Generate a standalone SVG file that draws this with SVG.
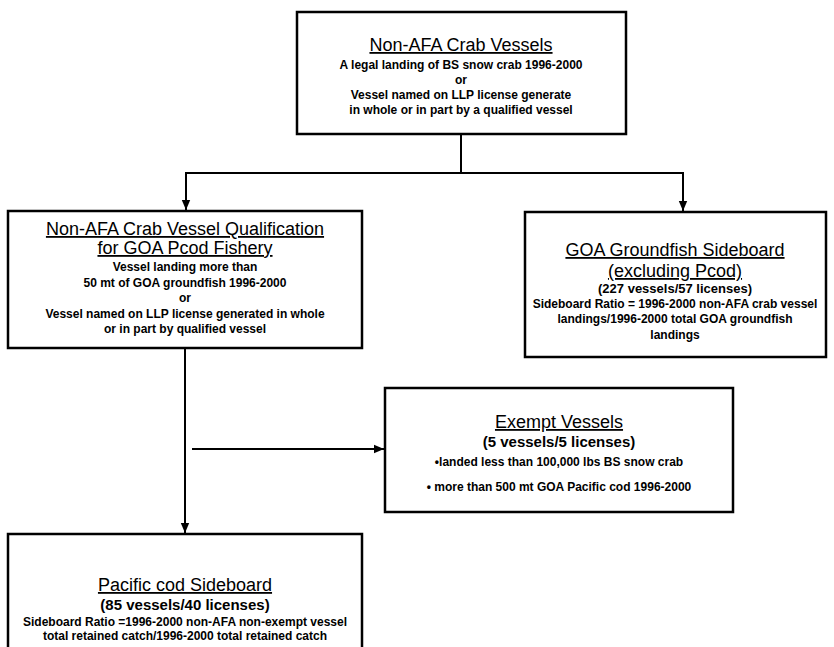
<svg xmlns="http://www.w3.org/2000/svg" width="834" height="647" viewBox="0 0 834 647">
<defs>
<style>
.box{fill:#fff;stroke:#000;stroke-width:2.5}
.t{font-family:"Liberation Sans",Arial,sans-serif;font-size:18px;text-anchor:middle;text-decoration:underline;fill:#000}
.b{font-family:"Liberation Sans",Arial,sans-serif;font-size:12px;font-weight:bold;text-anchor:middle;fill:#000}
.m{font-family:"Liberation Sans",Arial,sans-serif;font-size:15px;font-weight:bold;text-anchor:middle;fill:#000}
.c{fill:none;stroke:#000;stroke-width:2}
</style>
<marker id="ah" markerUnits="userSpaceOnUse" markerWidth="10" markerHeight="10" viewBox="0 0 10 10" refX="10" refY="5" orient="auto">
<path d="M0,0.8 L10,5 L0,9.2 Z" fill="#000"/>
</marker>
</defs>
<rect width="834" height="647" fill="#fff"/>
<g id="connectors">
<path class="c" d="M461,134 V173"/>
<path class="c" d="M461,173 H186 V210" marker-end="url(#ah)"/>
<path class="c" d="M461,173 H683 V211" marker-end="url(#ah)"/>
<path class="c" d="M185,348 V533" marker-end="url(#ah)"/>
<path class="c" d="M192,449 H384" marker-end="url(#ah)"/>
</g>
<g id="node-top">
<rect class="box" x="297" y="12" width="329" height="122"/>
<text class="t" x="461" y="51">Non-AFA Crab Vessels</text>
<text class="b" x="461" y="69">A legal landing of BS snow crab 1996-2000</text>
<text class="b" x="461" y="84">or</text>
<text class="b" x="461" y="99">Vessel named on LLP license generate</text>
<text class="b" x="461" y="114">in whole or in part by a qualified vessel</text>
</g>
<g id="node-qualification">
<rect class="box" x="8" y="211" width="354" height="137"/>
<text class="t" x="185" y="235">Non-AFA Crab Vessel Qualification</text>
<text class="t" x="185" y="254">for GOA Pcod Fishery</text>
<text class="b" x="185" y="271">Vessel landing more than</text>
<text class="b" x="185" y="287">50 mt of GOA groundfish 1996-2000</text>
<text class="b" x="185" y="302">or</text>
<text class="b" x="185" y="318">Vessel named on LLP license generated in whole</text>
<text class="b" x="185" y="333">or in part by qualified vessel</text>
</g>
<g id="node-goa">
<rect class="box" x="525" y="212" width="301" height="145"/>
<text class="t" x="675" y="256">GOA Groundfish Sideboard</text>
<text class="t" x="675" y="277">(excluding Pcod)</text>
<text class="b" x="675" y="293" style="font-size:13px">(227 vessels/57 licenses)</text>
<text class="b" x="675" y="308">Sideboard Ratio = 1996-2000 non-AFA crab vessel</text>
<text class="b" x="675" y="323">landings/1996-2000 total GOA groundfish</text>
<text class="b" x="675" y="339">landings</text>
</g>
<g id="node-exempt">
<rect class="box" x="385" y="388" width="348" height="124"/>
<text class="t" x="559" y="428">Exempt Vessels</text>
<text class="m" x="559" y="447">(5 vessels/5 licenses)</text>
<text class="b" x="559" y="466">•landed less than 100,000 lbs BS snow crab</text>
<text class="b" x="559" y="491">• more than 500 mt GOA Pacific cod 1996-2000</text>
</g>
<g id="node-pcod">
<rect class="box" x="8" y="534" width="354" height="120"/>
<text class="t" x="185" y="591">Pacific cod Sideboard</text>
<text class="m" x="185" y="610">(85 vessels/40 licenses)</text>
<text class="b" x="185" y="626">Sideboard Ratio =1996-2000 non-AFA non-exempt vessel</text>
<text class="b" x="185" y="640">total retained catch/1996-2000 total retained catch</text>
</g>
</svg>
